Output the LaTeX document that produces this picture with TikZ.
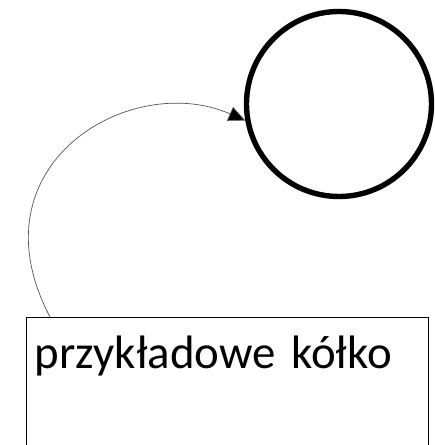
\documentclass[tikz,border=0pt]{standalone}
\usepackage{fontspec}
\setmainfont{Carlito}
\usetikzlibrary{arrows.meta}
\definecolor{linia}{HTML}{555555}

\begin{document}
\begin{tikzpicture}[x=0.03cm, y=0.03cm,
    kolo/.style={circle, draw, line width=4.6pt, minimum size=5.55cm},
    ramka/.style={rectangle, draw, line width=0.8pt, anchor=north west,
        inner xsep=0.25cm, inner ysep=0.3cm, text width=11.56cm, align=left,
        text height=1.23cm, text depth=2.6cm, font=\fontsize{40}{48}\selectfont},
    strzalka/.style={draw=linia, line width=0.6pt,
        -{Triangle[length=0.5cm, width=0.45cm, fill=black]}}]
    \useasboundingbox (0, 0) rectangle (434, 445);

    \node[kolo] (kolko) at (339, 341) {};
    \node[ramka] (opis) at (25.7, 128) {przykładowe kółko};

    \coordinate (start) at ([xshift=0.73cm]opis.north west);
    \draw[strzalka] (start) .. controls (-30, 280) and (130, 375) .. (kolko.190);
\end{tikzpicture}
\end{document}
